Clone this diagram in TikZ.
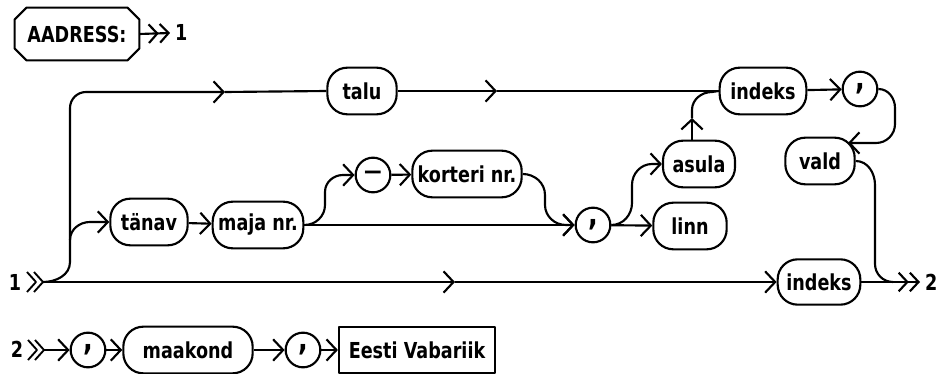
\documentclass[tikz,border=0pt]{standalone}
\usepackage{fontspec}
\setmainfont{DejaVu Sans}[FakeStretch=0.8]
\usetikzlibrary{arrows.meta,calc}
\newcommand{\cma}{{\fontsize{24}{24}\selectfont\raisebox{3.5pt}{,}}}
\begin{document}
\begin{tikzpicture}[x=0.75pt,y=-0.75pt,line width=1.6pt,line join=round,
  every node/.style={font=\bfseries\fontsize{16.5}{19}\selectfont,inner sep=0pt},
  pill/.style={draw,rounded corners=15pt,minimum height=35pt},
  circ/.style={draw,circle,minimum size=26pt},
  plain/.style={draw,rectangle,minimum height=34pt},
  tip/.style={-{Straight Barb[length=7.5pt,width=16pt]}},
  dbl/.style={-{Straight Barb[length=6.5pt,width=14pt]Straight Barb[length=6.5pt,width=14pt]}},
  chev/.style={line width=1.4pt}]
\useasboundingbox (0,0) rectangle (943,374);

% header
\node[minimum width=92pt,minimum height=38pt] (aadr) at (77,34) {AADRESS:};
\draw ([xshift=9pt]aadr.north west) -- ([xshift=-9pt]aadr.north east)
  -- ([yshift=-9pt]aadr.north east) -- ([yshift=9pt]aadr.south east)
  -- ([xshift=-9pt]aadr.south east) -- ([xshift=9pt]aadr.south west)
  -- ([yshift=9pt]aadr.south west) -- ([yshift=-9pt]aadr.north west) -- cycle;
\coordinate (a1) at (170,33);
\draw[dbl] (aadr.east) -- (a1);
\node[anchor=west] (one) at (174,32) {1};

% nodes
\node[pill,minimum width=52pt] (talu) at (362,91) {talu};
\node[pill,minimum width=65pt] (indT) at (763,91) {indeks};
\node[circ] (c1) at (860,89) {\cma};
\node[pill,minimum width=52pt] (vald) at (820,161) {vald};
\node[pill,minimum width=54pt] (asula) at (699,164) {asula};
\node[pill,minimum width=55pt] (linn) at (690,226) {linn};
\node[pill,minimum width=62pt,minimum height=34pt] (indB) at (819,282) {indeks};
\node[circ] (c2) at (593,225) {\cma};
\node[pill,minimum width=82pt] (kort) at (467,174) {korteri nr.};
\node[circ] (dash) at (373,175) {—};
\node[pill,minimum width=68pt] (maja) at (258,225) {maja nr.};
\node[pill,minimum width=58pt] (tanav) at (149,222) {tänav};

% start 1
\node (onel) at (15,282) {1};
\draw[chev] (27,272) -- (36,282) -- (27,292) (34,272) -- (43,282) -- (34,292);
\coordinate (L1) at (43,282);
\coordinate (ta) at (225,92);
\coordinate (tb) at (497,91);
\coordinate (ba) at (455,282);
\coordinate (j1) at (70,240);

\draw (L1) to[out=0,in=-90] (70,262) -- (j1);
\draw[tip,rounded corners=12pt] (j1) |- (ta);
\draw (ta) -- (talu.west);
\draw[tip] (talu.east) -- (tb);
\draw (tb) -- (indT.west);
\draw[tip] (L1) -- (ba);
\draw[tip] (ba) -- (indB.west);
\draw[tip] (j1) to[out=90,in=180] (90,222) -- (tanav.west);
\draw[tip] (tanav) -- (maja);
\draw[tip] (maja.east) -- (c2.west);
\draw[tip] (maja.east) to[out=0,in=-90] (325,205) -- (325,192) to[out=90,in=180] (343,175) -- (dash.west);
\draw[tip] (dash) -- (kort);
\draw[tip] (kort.east) to[out=0,in=90] (545,195) -- (545,205) to[out=-90,in=180] (566,225) -- (c2.west);
\draw[tip] (c2) -- (linn);
\draw[tip] (c2.east) to[out=0,in=-90] (632,203) -- (632,185) to[out=90,in=180] (652,164) -- (asula.west);
\coordinate (ua) at (692,118);
\draw[tip] (asula.north -| ua) -- (ua);
\draw (ua) -- (692,110) to[out=90,in=180] (712,92) -- (indT.west);
\draw[tip] (indT) -- (c1);
\coordinate (vin) at (848,143);
\draw[tip] (c1.east) to[out=0,in=90] (895,108) -- (895,124) to[out=-90,in=0] (876,143) -- (vin);
\draw (vald.east) to[out=0,in=90] (875,185) -- (875,264) to[out=-90,in=180] (893,282);
\coordinate (e2) at (920,282);
\draw[dbl] (indB.east) -- (e2);
\node[anchor=west] (two) at (924,282) {2};

% bottom row
\node (twol) at (17,349) {2};
\draw[chev] (28,340) -- (37,350) -- (28,360) (35,340) -- (44,350) -- (35,360);
\coordinate (L2) at (44,350);
\node[circ] (c3) at (88,350) {\cma};
\node[pill,minimum width=97pt] (maak) at (188,350) {maakond};
\node[circ] (c4) at (303,350) {\cma};
\node[plain,minimum width=117pt] (ev) at (417,350) {Eesti Vabariik};
\draw[tip] (L2) -- (c3);
\draw[tip] (c3) -- (maak);
\draw[tip] (maak) -- (c4);
\draw[tip] (c4) -- (ev);
\end{tikzpicture}
\end{document}
